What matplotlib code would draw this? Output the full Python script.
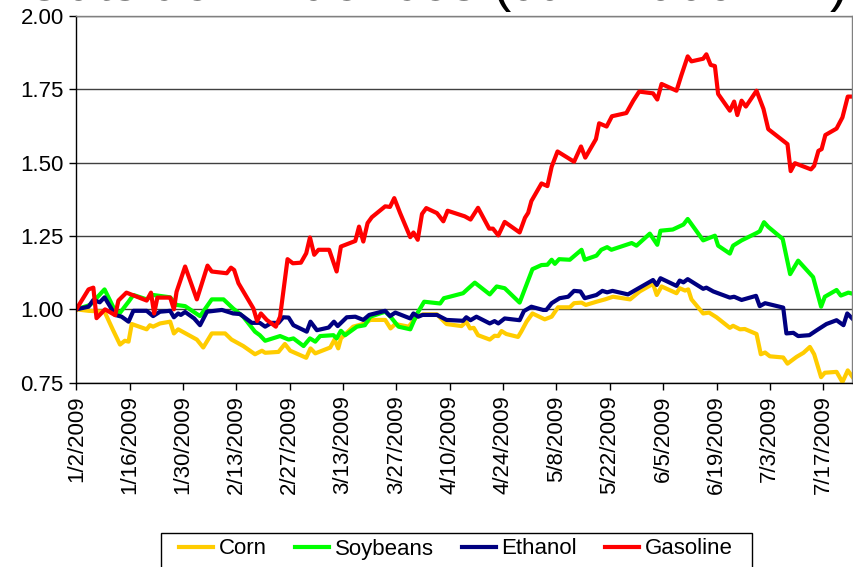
import matplotlib
matplotlib.use('Agg')
import matplotlib.pyplot as plt
from matplotlib.patches import Rectangle

plt.rcParams['font.family'] = ['Liberation Sans', 'DejaVu Sans']

# x = trading-day index counted from 1/2/2009 (10 trading days per tick)
tick_labels = ['1/2/2009', '1/16/2009', '1/30/2009', '2/13/2009', '2/27/2009',
               '3/13/2009', '3/27/2009', '4/10/2009', '4/24/2009', '5/8/2009',
               '5/22/2009', '6/5/2009', '6/19/2009', '7/3/2009', '7/17/2009']

corn_x = [0, 2.3, 5.3, 6.9, 8.2, 9.1, 9.8, 10.4, 13.2, 13.8, 14.4, 15.7, 17.6, 18.3,
          19.1, 22.6, 23.8, 25.4, 27.9, 29.1, 31.3, 33.5, 34.8, 35.4, 37.9, 39.1,
          40.1, 43.1, 43.9, 44.8, 47.6, 48.4, 49.1, 49.6, 51.9, 54.1, 55.1, 57.9,
          58.9, 59.8, 62.3, 63.8, 65, 67.6, 69.4, 72.2, 73.1, 73.8, 74.5, 75.3,
          77.5, 78.4, 79.1, 79.7, 80.6, 82.8, 83.4, 84.4, 85.5, 87.8, 89.1, 90.3,
          92.5, 93.3, 94.7, 95.5, 97.5, 99.1, 100.6, 103.8, 105.6, 108.1, 108.8,
          109.7, 112.5, 113.1, 114.1, 114.7, 115.3, 117.5, 118.6, 120, 122.5,
          123.1, 124.4, 125.3, 127.5, 128.3, 129.1, 130, 132.5, 133.3, 135, 136.3,
          137.5, 138.3, 139.6, 140.3, 142.5, 143.6, 144.6, 145.6]
corn = [1.00, 0.995, 0.992, 0.929, 0.880, 0.893, 0.890, 0.950, 0.932, 0.946, 0.941,
        0.952, 0.958, 0.918, 0.932, 0.897, 0.870, 0.918, 0.918, 0.897, 0.875, 0.847,
        0.859, 0.852, 0.855, 0.882, 0.859, 0.835, 0.867, 0.850, 0.870, 0.897, 0.867,
        0.901, 0.941, 0.952, 0.964, 0.964, 0.935, 0.950, 0.941, 0.975, 0.983, 0.983,
        0.950, 0.943, 0.958, 0.935, 0.937, 0.912, 0.897, 0.910, 0.909, 0.926, 0.916,
        0.906, 0.924, 0.958, 0.986, 0.966, 0.975, 1.007, 1.007, 1.021, 1.023, 1.015,
        1.026, 1.034, 1.043, 1.034, 1.061, 1.087, 1.049, 1.078, 1.055, 1.072, 1.064,
        1.068, 1.034, 0.986, 0.989, 0.973, 0.937, 0.944, 0.932, 0.933, 0.916, 0.847,
        0.853, 0.840, 0.836, 0.815, 0.838, 0.852, 0.872, 0.847, 0.769, 0.784, 0.787,
        0.752, 0.792, 0.767]

soy_x = [0, 2.6, 5.3, 6.9, 8.1, 9.8, 10.7, 13.2, 14.4, 17.6, 18.8, 20.4, 23.2, 25.4,
         27.6, 29.4, 31.3, 33.5, 34.4, 35.4, 38.2, 39.8, 40.7, 42.6, 43.8, 44.8,
         45.7, 48.2, 48.8, 49.6, 50.4, 52.6, 54.1, 55.1, 57.9, 58.8, 60.4, 62.6,
         63.9, 65.2, 68.2, 68.9, 70, 72.5, 73.4, 74.7, 77.5, 78.8, 80.3, 83.1, 85.5,
         87.2, 88.3, 89.1, 89.7, 90.5, 92.5, 94.7, 95.3, 97.5, 98.4, 99.5, 100.3,
         104.1, 105, 107.5, 108.9, 109.5, 111.8, 113.8, 114.6, 117.5, 119.7, 120.3,
         122.5, 123.1, 124.7, 127.5, 128.1, 128.9, 129.7, 132.4, 133.8, 135.3,
         138.1, 139.6, 140.3, 142.5, 143.3, 144.7, 145.6]
soybeans = [1.00, 1.015, 1.068, 1.009, 0.986, 1.026, 1.049, 1.034, 1.049, 1.041, 1.015,
            1.011, 0.977, 1.034, 1.034, 1.003, 0.975, 0.924, 0.912, 0.893, 0.909, 0.897,
            0.901, 0.875, 0.901, 0.890, 0.909, 0.912, 0.901, 0.927, 0.912, 0.941, 0.946,
            0.975, 0.992, 0.977, 0.941, 0.932, 0.986, 1.026, 1.020, 1.038, 1.043, 1.055,
            1.070, 1.091, 1.051, 1.078, 1.072, 1.023, 1.137, 1.151, 1.152, 1.169, 1.155,
            1.171, 1.169, 1.203, 1.169, 1.183, 1.203, 1.212, 1.203, 1.226, 1.217, 1.258,
            1.220, 1.268, 1.272, 1.289, 1.308, 1.235, 1.251, 1.217, 1.190, 1.217, 1.235,
            1.260, 1.266, 1.297, 1.281, 1.240, 1.120, 1.166, 1.110, 1.009, 1.043, 1.066,
            1.047, 1.057, 1.053]

eth_x = [0, 2.3, 3.2, 4.4, 5.3, 7.3, 8.5, 9.8, 10.7, 13.2, 14.4, 15.7, 17.6, 18.3,
         19.1, 19.6, 20.4, 22.1, 23.2, 24.5, 27.3, 29.4, 30.7, 32.9, 34.4, 35.4,
         36.6, 37.9, 38.8, 39.8, 40.7, 43.2, 43.9, 45.1, 47.3, 48.3, 49, 50.7,
         52.3, 53.8, 54.9, 57.9, 58.8, 59.8, 62.6, 63.2, 64.1, 64.9, 67.6, 69.4,
         72.5, 73.1, 73.9, 75, 77.5, 78.4, 79.1, 80.3, 83.1, 83.9, 85.3, 87.5, 88.1,
         89.1, 90.6, 92.2, 93.3, 94.5, 95.3, 97.5, 98.6, 99.5, 100.5, 103.4, 105.6,
         108.1, 108.8, 109.5, 112.5, 113.1, 113.8, 114.6, 117.5, 118.1, 119.4,
         122.5, 123.3, 124.7, 127.4, 128.1, 129.1, 132.5, 133.1, 134.4, 135.3,
         137.4, 138.8, 140.6, 142.5, 143.8, 144.5, 145.6]
ethanol = [1.00, 1.009, 1.032, 1.024, 1.041, 0.981, 0.975, 0.958, 0.995, 0.995, 0.977,
           0.992, 0.995, 0.973, 0.986, 0.981, 0.991, 0.969, 0.946, 0.992, 0.998, 0.986,
           0.984, 0.954, 0.954, 0.941, 0.954, 0.954, 0.973, 0.972, 0.946, 0.924, 0.958,
           0.929, 0.938, 0.958, 0.943, 0.973, 0.975, 0.964, 0.981, 0.995, 0.977, 0.989,
           0.969, 0.986, 0.975, 0.981, 0.981, 0.964, 0.961, 0.973, 0.963, 0.975, 0.952,
           0.960, 0.952, 0.969, 0.963, 0.994, 1.009, 0.998, 0.998, 1.021, 1.038, 1.043,
           1.063, 1.061, 1.038, 1.049, 1.063, 1.058, 1.063, 1.051, 1.074, 1.100, 1.083,
           1.106, 1.080, 1.098, 1.092, 1.103, 1.070, 1.074, 1.061, 1.040, 1.043, 1.032,
           1.046, 1.011, 1.021, 1.006, 0.918, 0.920, 0.909, 0.912, 0.929, 0.950, 0.963,
           0.946, 0.986, 0.966]

gas_x = [0, 2.3, 3.2, 3.8, 5.4, 7.3, 7.9, 9.4, 13.2, 14, 14.6, 15.2, 17.6, 18.3, 18.8,
         20.4, 22.6, 24.6, 25.4, 28.2, 29, 29.6, 30.4, 33.2, 33.9, 34.6, 35.7, 37.4,
         38.2, 39.6, 40.6, 42.1, 43.1, 43.8, 44.6, 45.4, 47.4, 48.8, 49.6, 52.3, 53,
         53.8, 54.6, 55.4, 57.9, 58.8, 59.6, 60.7, 62.6, 63.2, 64, 64.8, 65.6, 67.6,
         68.8, 69.6, 72.8, 73.9, 75.3, 77.4, 78.1, 79.1, 80.3, 83.1, 84.1, 84.7,
         85.3, 87.2, 88.3, 89.1, 90.2, 93.3, 94.6, 95.4, 97.4, 98, 99.4, 100.4,
         103.1, 104.4, 105.5, 108.1, 108.9, 109.7, 112.5, 113.4, 114.6, 115.3,
         117.5, 118.1, 118.9, 119.7, 120.3, 122.5, 123.3, 123.9, 124.7, 125.5,
         127.5, 128.8, 129.7, 133.3, 133.9, 134.7, 137.7, 138.3, 139.1, 139.7,
         140.4, 142.5, 143.6, 144.6, 145.6]
gasoline = [1.00, 1.068, 1.074, 0.970, 1.000, 0.980, 1.030, 1.057, 1.030, 1.057, 0.986,
            1.040, 1.040, 1.000, 1.060, 1.146, 1.034, 1.149, 1.129, 1.123, 1.142, 1.134,
            1.089, 1.003, 0.960, 0.986, 0.964, 0.941, 0.975, 1.171, 1.157, 1.159, 1.191,
            1.245, 1.186, 1.203, 1.203, 1.129, 1.214, 1.233, 1.282, 1.231, 1.294, 1.314,
            1.351, 1.349, 1.379, 1.328, 1.246, 1.262, 1.237, 1.325, 1.345, 1.328, 1.300,
            1.336, 1.317, 1.306, 1.346, 1.275, 1.275, 1.252, 1.298, 1.262, 1.312, 1.329,
            1.369, 1.429, 1.420, 1.486, 1.538, 1.503, 1.555, 1.517, 1.580, 1.634, 1.623,
            1.658, 1.669, 1.711, 1.742, 1.736, 1.715, 1.768, 1.745, 1.797, 1.862, 1.845,
            1.854, 1.869, 1.833, 1.829, 1.734, 1.677, 1.708, 1.662, 1.711, 1.691, 1.745,
            1.683, 1.614, 1.563, 1.471, 1.498, 1.477, 1.489, 1.540, 1.546, 1.594, 1.616,
            1.654, 1.725, 1.725]

fig = plt.figure(figsize=(8.54, 5.67), dpi=100)
ax = fig.add_axes([0.0893, 0.325, 0.9084, 0.647])

ax.plot(corn_x, corn, color='#FFCC00', lw=3, label='Corn')
ax.plot(soy_x, soybeans, color='#00FF00', lw=3, label='Soybeans')
ax.plot(eth_x, ethanol, color='#000080', lw=3, label='Ethanol')
ax.plot(gas_x, gasoline, color='#FF0000', lw=3, label='Gasoline')

ax.set_xlim(0, 145.4)
ax.set_ylim(0.75, 2.0)
ax.set_yticks([0.75, 1.0, 1.25, 1.5, 1.75, 2.0])
ax.set_yticklabels(['%.2f' % v for v in [0.75, 1.0, 1.25, 1.5, 1.75, 2.0]], fontsize=16)
ax.set_xticks(range(0, 150, 10))
ax.set_xticklabels(tick_labels, rotation=90, fontsize=16)
ax.tick_params(axis='both', direction='out', length=5, width=1, color='black', pad=4)

ax.grid(axis='y', color='#404040', lw=1)
ax.set_axisbelow(True)
for s in ['left', 'bottom']:
    ax.spines[s].set_color('black')
    ax.spines[s].set_linewidth(1)
for s in ['top', 'right']:
    ax.spines[s].set_color('#808080')
    ax.spines[s].set_linewidth(1)

# title sits mostly above the image, only its lower part shows
fig.text(0.5 + 9 / 854, 1 - 0.5 / 567, 'Outside Influences (Jan 2009 = 1)', ha='center',
         va='baseline', fontsize=39.5)

# legend box, cut by the bottom edge
fig.patches.append(Rectangle((161 / 854, 1 - 575 / 567), 591 / 854, 42 / 567,
                             transform=fig.transFigure, fill=False,
                             edgecolor='black', lw=1))
fig.legend(loc='center left', bbox_to_anchor=(179 / 854, 1 - 549 / 567), ncol=4,
           fontsize=16, frameon=False, handlelength=1.55, handletextpad=0.25,
           columnspacing=1.25, borderpad=0, borderaxespad=0)

fig.savefig('out.png', dpi=100)
